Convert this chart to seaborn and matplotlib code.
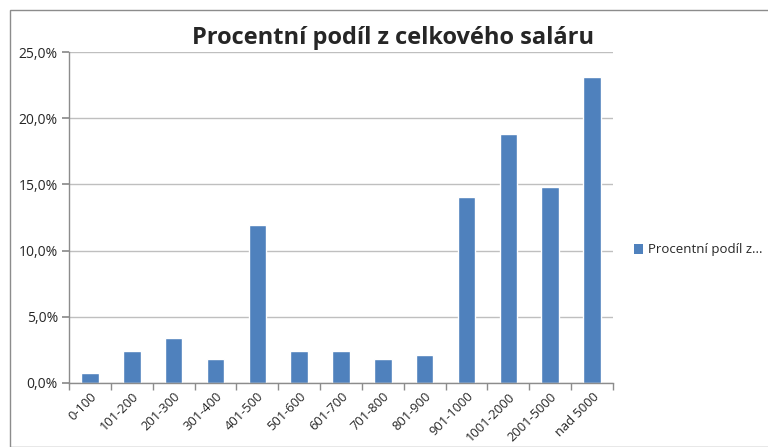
import matplotlib.pyplot as plt
import seaborn as sns
import numpy as np
from matplotlib.patches import Rectangle, Patch
from matplotlib.ticker import FuncFormatter

categories = ["0-100", "101-200", "201-300", "301-400", "401-500", "501-600",
              "601-700", "701-800", "801-900", "901-1000", "1001-2000",
              "2001-5000", "nad 5000"]
shares = [0.72, 2.42, 3.42, 1.84, 11.95, 2.42, 2.42, 1.84, 2.09, 14.07, 18.8, 14.8, 23.08]

title = "Procentní podíl z celkového saláru"
legend_label = "Procentní podíl z..."
bar_color = "#4F81BD"

sns.set_theme(style="white")
plt.rcParams["font.family"] = ["Open Sans", "DejaVu Sans"]

fig = plt.figure(figsize=(7.68, 4.47), dpi=100)
ax = fig.add_axes([69 / 768, 1 - 383 / 447, (613 - 69) / 768, (383 - 52) / 447])

sns.barplot(x=categories, y=shares, color=bar_color, width=0.42, saturation=1, ax=ax)

ax.set_ylim(0, 25)
ax.set_xlim(-0.5, len(categories) - 0.5)
ax.set_yticks(np.arange(0, 26, 5))
ax.yaxis.set_major_formatter(FuncFormatter(lambda v, _: f"{v:.1f}%".replace(".", ",")))
ax.yaxis.grid(True, color="#BFBFBF", linewidth=1)
ax.set_axisbelow(True)
for s in ["top", "right"]:
    ax.spines[s].set_visible(False)
for s in ["left", "bottom"]:
    ax.spines[s].set_color("#8C8C8C")
    ax.spines[s].set_linewidth(1)

ax.tick_params(axis="y", labelsize=10, length=5, color="#8C8C8C", left=True, pad=3)
ax.set_xticks(range(len(categories)))
ax.set_xticklabels(categories, rotation=45, ha="right", rotation_mode="anchor", fontsize=9.3)
ax.tick_params(axis="x", length=0, pad=5)
ax.set_xticks(np.arange(-0.5, len(categories), 1), minor=True)
ax.tick_params(axis="x", which="minor", length=5, color="#8C8C8C", bottom=True)
ax.set_xlabel("")
ax.set_ylabel("")

fig.text(0.512, 1 - 38 / 447, title, fontsize=17, fontweight="bold", ha="center", va="center")

handle = Patch(facecolor=bar_color, edgecolor="none")
fig.legend([handle], [legend_label], loc="center left", bbox_to_anchor=(622 / 768, 1 - 250 / 447),
           frameon=False, fontsize=9.5, handlelength=0.7, handleheight=0.7, handletextpad=0.4)

fig.patches.append(Rectangle((10 / 768, 0), 1.2, 1 - 10 / 447, transform=fig.transFigure,
                             fill=False, edgecolor="#8C8C8C", linewidth=1))

fig.savefig("out.png", dpi=100)
